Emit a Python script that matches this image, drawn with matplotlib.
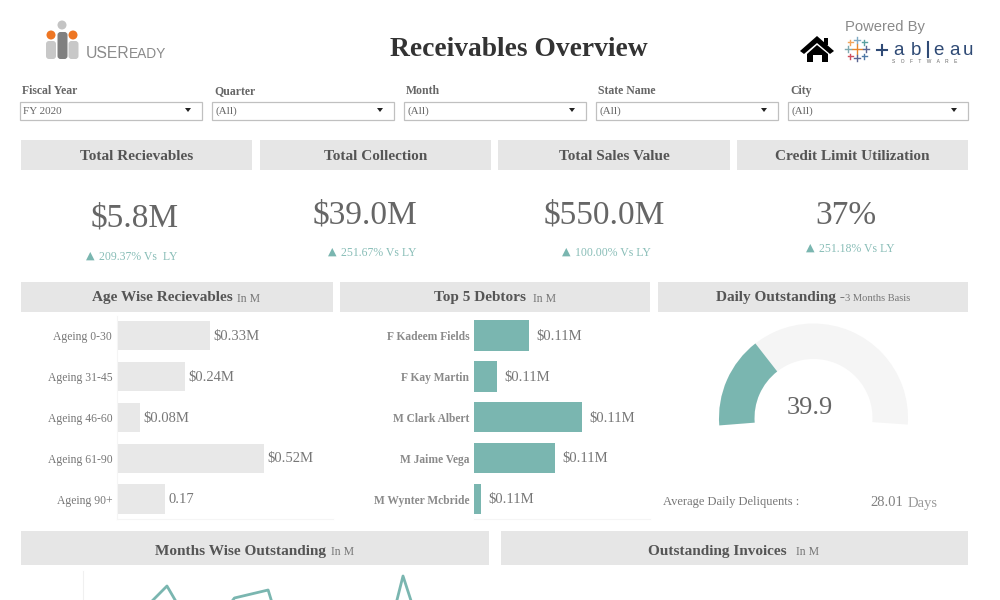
import matplotlib
matplotlib.use("Agg")
import matplotlib.pyplot as plt
from matplotlib.patches import Rectangle, Wedge, Circle, Polygon, FancyBboxPatch

plt.rcParams['font.family'] = ['Liberation Serif', 'DejaVu Sans']

TEAL = "#7ab6b0"
GREY_BG = "#e6e6e6"
BAR_GREY = "#e8e8e8"
DARK = "#555555"
MID = "#777777"
NAVY = "#2f4a75"

# filters
filter_names = ["Fiscal Year", "Quarter", "Month", "State Name", "City"]
filter_values = ["FY 2020", "(All)", "(All)", "(All)", "(All)"]

# KPI cards
kpi_titles = ["Total Recievables", "Total Collection", "Total Sales Value", "Credit Limit Utilization"]
kpi_values = ["$5.8M", "$39.0M", "$550.0M", "37%"]
kpi_changes = ["209.37% Vs  LY", "251.67% Vs LY", "100.00% Vs LY", "251.18% Vs LY"]

# age wise bars
age_labels = ["Ageing 0-30", "Ageing 31-45", "Ageing 46-60", "Ageing 61-90", "Ageing 90+"]
age_values = [0.33, 0.24, 0.08, 0.52, 0.17]
age_text = ["$0.33M", "$0.24M", "$0.08M", "$0.52M", "0.17"]

# debtors, bar lengths
debtor_labels = ["F Kadeem Fields", "F Kay Martin", "M Clark Albert", "M Jaime Vega", "M Wynter Mcbride"]
debtor_values = [0.110, 0.046, 0.217, 0.163, 0.014]
debtor_text = ["$0.11M"] * 5

# gauge
gauge_value = 39.9
gauge_max = 133.0

# months line, only the top of it is visible in the picture
month_x = [0, 1, 2, 3, 4, 5, 6, 7, 8, 9, 10, 11]
month_y = [3.0, 5.0, 6.7, 3.8, 6.1, 6.5, 1.0, 2.0, 0.5, 7.2, 2.0, 3.0]


def px_axes(fig, x0, y0, x1, y1):
    # axes placed with image pixels, y measured from the top
    return fig.add_axes([x0 / 1000, 1 - y1 / 600, (x1 - x0) / 1000, (y1 - y0) / 600])


fig = plt.figure(figsize=(10, 6), dpi=100)
bg = fig.add_axes([0, 0, 1, 1])
bg.set_xlim(0, 1000)
bg.set_ylim(600, 0)
bg.axis("off")


def header(x0, x1, y0, y1, title, sub=None, tx=None, sx=None, subsize=8.5, dy=2):
    bg.add_patch(Rectangle((x0, y0), x1 - x0, y1 - y0, color=GREY_BG, lw=0))
    ym = (y0 + y1) / 2 + dy
    if sub is None:
        bg.text((x0 + x1) / 2, ym, title, ha="center", va="center", fontsize=11, fontweight="bold", color=DARK)
    else:
        bg.text(tx, ym, title, ha="left", va="center", fontsize=11, fontweight="bold", color=DARK)
        bg.text(sx, ym + 0.5, sub, ha="left", va="center", fontsize=subsize, color=MID)


# logo
bg.add_patch(Circle((62, 25), 4.5, color="#c4c4c4", lw=0))
bg.add_patch(Circle((51, 35), 4.5, color="#ee7623", lw=0))
bg.add_patch(Circle((73, 35), 4.5, color="#ee7623", lw=0))
for lx, c, top in [(51, "#c8c8c8", 41), (62.5, "#808080", 32), (73.5, "#c8c8c8", 41)]:
    bg.add_patch(FancyBboxPatch((lx - 2, top + 3), 4, 59 - top - 6, boxstyle="round,pad=3", color=c, lw=0))
bg.text(85.5, 58.5, "USER", family="Liberation Sans", fontsize=11.3, color="#8a8a8a", va="baseline", ha="left")
bg.text(128.5, 58.5, "EADY", family="Liberation Sans", fontsize=9.9, color="#8a8a8a", va="baseline", ha="left")

bg.text(519, 49, "Receivables Overview", ha="center", va="center", fontsize=19.8, fontweight="bold", color="#333333")

# powered by / home / tableau
bg.text(845, 27, "Powered By", family="Liberation Sans", fontsize=10.6, color="#8a8a8a", va="center", ha="left")
bg.add_patch(Polygon([(800, 51), (817, 36), (834, 51), (830, 54), (817, 43), (804, 54)], color="black", lw=0))
bg.add_patch(Polygon([(807, 54), (817, 45), (828, 54), (828, 62), (822, 62), (822, 55), (813, 55), (813, 62), (807, 62)], color="black", lw=0))
bg.add_patch(Rectangle((824, 38), 4, 7, color="black", lw=0))
plus = [(857, 49, 5, "#e8862b"), (857, 40, 3, "#7fa9c4"), (857, 58, 3, "#5b6591"), (848, 49, 3, "#7fa9b0"),
        (866, 49, 3, "#5b6591"), (850, 42, 2.5, "#f2a45b"), (864, 42, 2.5, "#5aa0a0"), (850, 56, 2.5, "#d0505f"), (864, 56, 2.5, "#4e79a7")]
for px, py, s, c in plus:
    bg.plot([px - s, px + s], [py, py], color=c, lw=1.0)
    bg.plot([px, px], [py - s, py + s], color=c, lw=1.0)
bg.plot([877, 887], [50, 50], color=NAVY, lw=1.5)
bg.plot([882, 882], [45, 55], color=NAVY, lw=1.5)
for lx, ch in zip([893, 911, 933, 949, 963], ["a", "b", "e", "a", "u"]):
    bg.text(lx, 55, ch, family="Liberation Sans", fontsize=13.5, color=NAVY, va="baseline", ha="left")
bg.plot([928, 928], [42, 57], color=NAVY, lw=1.5)
bg.text(925, 61.5, "S    O    F    T    W    A    R    E", family="Liberation Sans", fontsize=3.5, color="#666666", va="center", ha="center")

# filters
fx = [20, 212, 404, 596, 788]
fw = [182, 182, 182, 182, 180]
for x, w, name, val in zip(fx, fw, filter_names, filter_values):
    bg.text(x + 2, 94, name, ha="left", va="baseline", fontsize=8.5, fontweight="bold", color="#666666")
    bg.add_patch(Rectangle((x - 0.5, 101.5), w, 18, fc="white", ec="#c0c0c0", lw=0.9))
    bg.text(x + 3, 114, val, ha="left", va="baseline", fontsize=8, color="#666666")
    bg.add_patch(Polygon([(x + w - 17, 108), (x + w - 11, 108), (x + w - 14, 112)], color="#222222", lw=0))

# KPI cards
kx = [(21, 252), (260, 491), (498, 730), (737, 968)]
vx = [135, 365, 604, 846]
vy = [218, 215, 215, 216]
cx = [86, 328, 562, 806]
cy = [257, 253, 253, 249]
for i in range(4):
    header(kx[i][0], kx[i][1], 140, 170, kpi_titles[i])
    bg.text(vx[i], vy[i], kpi_values[i], ha="center", va="center", fontsize=24, color="#666666")
    bg.text(cx[i], cy[i] - 1, "\u25b2", family="DejaVu Sans", ha="left", va="center", fontsize=8, color=TEAL)
    bg.text(cx[i] + 13, cy[i], kpi_changes[i], ha="left", va="center", fontsize=8.5, color="#88bdb7")

header(21, 333, 282, 312, "Age Wise Recievables", "In M", 92.5, 237, dy=1)
header(340, 650, 282, 312, "Top 5 Debtors", "In M", 433.5, 533, dy=1)
header(658, 968, 282, 312, "Daily Outstanding -", "3 Months Basis", 716, 845, subsize=7.6, dy=1)
header(21, 489, 531, 565, "Months Wise Outstanding", "In M", 155, 331, dy=3.5)
header(501, 968, 531, 565, "Outstanding Invoices", "In M", 648, 796, dy=3.5)

# age wise bars
ax1 = px_axes(fig, 117, 316, 333, 519)
ax1.barh(range(5), age_values, height=0.71, color=BAR_GREY)
ax1.set_xlim(0, 0.765)
ax1.set_ylim(4.489, -0.477)
ax1.set_yticks(range(5), age_labels, fontsize=8.4, color="#777777")
ax1.set_xticks([])
ax1.tick_params(axis="y", length=0, pad=3.5)
for i, v in enumerate(age_values):
    ax1.text(v + 0.012, i + 0.02, age_text[i], va="center", ha="left", fontsize=10.5, color="#777777")
for s in ["top", "right"]:
    ax1.spines[s].set_visible(False)
ax1.spines["left"].set_color("#f5f5f5")
ax1.spines["bottom"].set_color("#f5f5f5")

# debtors
ax2 = px_axes(fig, 474, 316, 650, 519)
ax2.barh(range(5), debtor_values, height=0.745, color=TEAL)
ax2.set_xlim(0, 0.353)
ax2.set_ylim(4.489, -0.477)
ax2.set_yticks(range(5), debtor_labels, fontsize=8.3, fontweight="bold", color="#8a8a8a")
ax2.set_xticks([])
ax2.tick_params(axis="y", length=0, pad=3.5)
for i, v in enumerate(debtor_values):
    ax2.text(v + 0.015, i + 0.02, debtor_text[i], va="center", ha="left", fontsize=10.5, color="#777777")
for s in ["top", "right", "left"]:
    ax2.spines[s].set_visible(False)
ax2.spines["bottom"].set_color("#f5f5f5")

# gauge, the y axis of bg is flipped so the top half runs from 180 to 360 degrees
gc = (813.5, 418)
start = 175.5
sweep = 188.5
split = start + gauge_value / gauge_max * sweep
bg.add_patch(Wedge(gc, 94.5, start, start + sweep, width=35.5, fc="#f5f5f5", lw=0))
bg.add_patch(Wedge(gc, 94.5, start, split, width=35.5, fc=TEAL, lw=0))
bg.text(810, 408.5, f"{gauge_value}", ha="center", va="center", fontsize=19, color="#666666")
bg.text(663, 502, "Average Daily Deliquents :", ha="left", va="center", fontsize=9, color="#777777")
bg.text(870, 503, "28.01", ha="left", va="center", fontsize=10.5, color="#808080")
bg.text(908, 503, "Days", ha="left", va="center", fontsize=10.5, color="#999999")

# months line, axes run past the image bottom so only the peaks show
ax3 = px_axes(fig, 83, 571, 489, 720)
ax3.plot(month_x, month_y, color=TEAL, lw=2)
ax3.set_xlim(-0.49, 11.55)
ax3.set_ylim(0, 7.45)
ax3.set_xticks([])
ax3.set_yticks([])
for s in ["top", "right", "bottom"]:
    ax3.spines[s].set_visible(False)
ax3.spines["left"].set_color("#f0f0f0")

fig.savefig("out.png", dpi=100)
